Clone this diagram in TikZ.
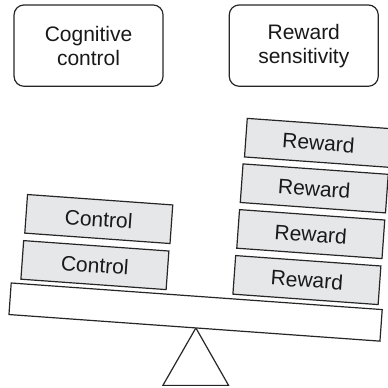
\documentclass[tikz,border=0pt]{standalone}
\usepackage{fontspec}
\setmainfont{Liberation Sans}
\definecolor{blockgray}{RGB}{230,231,233}

\begin{document}
\begin{tikzpicture}[
    line width=0.6pt, font=\fontsize{10.5}{12}\selectfont,
    heading/.style = {draw,black!85,text=black!90,rounded corners=5pt,
      minimum width=2.62cm,minimum height=1.43cm,align=center,inner sep=0pt},
    block/.style = {draw,black!85,fill=blockgray,text=black!90,
      minimum width=2.56cm,minimum height=0.68cm,inner sep=0pt,transform shape}
  ]
    \useasboundingbox (-3.444,-1.056) rectangle (3.367,5.766);
    \node[heading] (cog) at (-1.887,4.964) {Cognitive\\control};
    \node[heading] (sens) at (1.897,4.964) {Reward\\sensitivity};
    \coordinate (pivot) at (0,0);
    \draw[black!85,fill=white] (pivot) -- (-0.58,-1.01) -- (0.575,-1.01) -- cycle;
    \begin{scope}[rotate=-4.1]
      \node[block,fill=white,minimum width=6.54cm,minimum height=0.556cm] (plank) at (-0.025,0.278) {};
      \node[block] (ctrl1) at (-1.85,0.975) {Control};
      \node[block] (ctrl2) at (-1.84,1.788) {Control};
      \node[block] (rew1) at (1.887,0.979) {Reward};
      \node[block] (rew2) at (1.897,1.790) {Reward};
      \node[block] (rew3) at (1.901,2.596) {Reward};
      \node[block] (rew4) at (1.918,3.400) {Reward};
    \end{scope}
\end{tikzpicture}
\end{document}
